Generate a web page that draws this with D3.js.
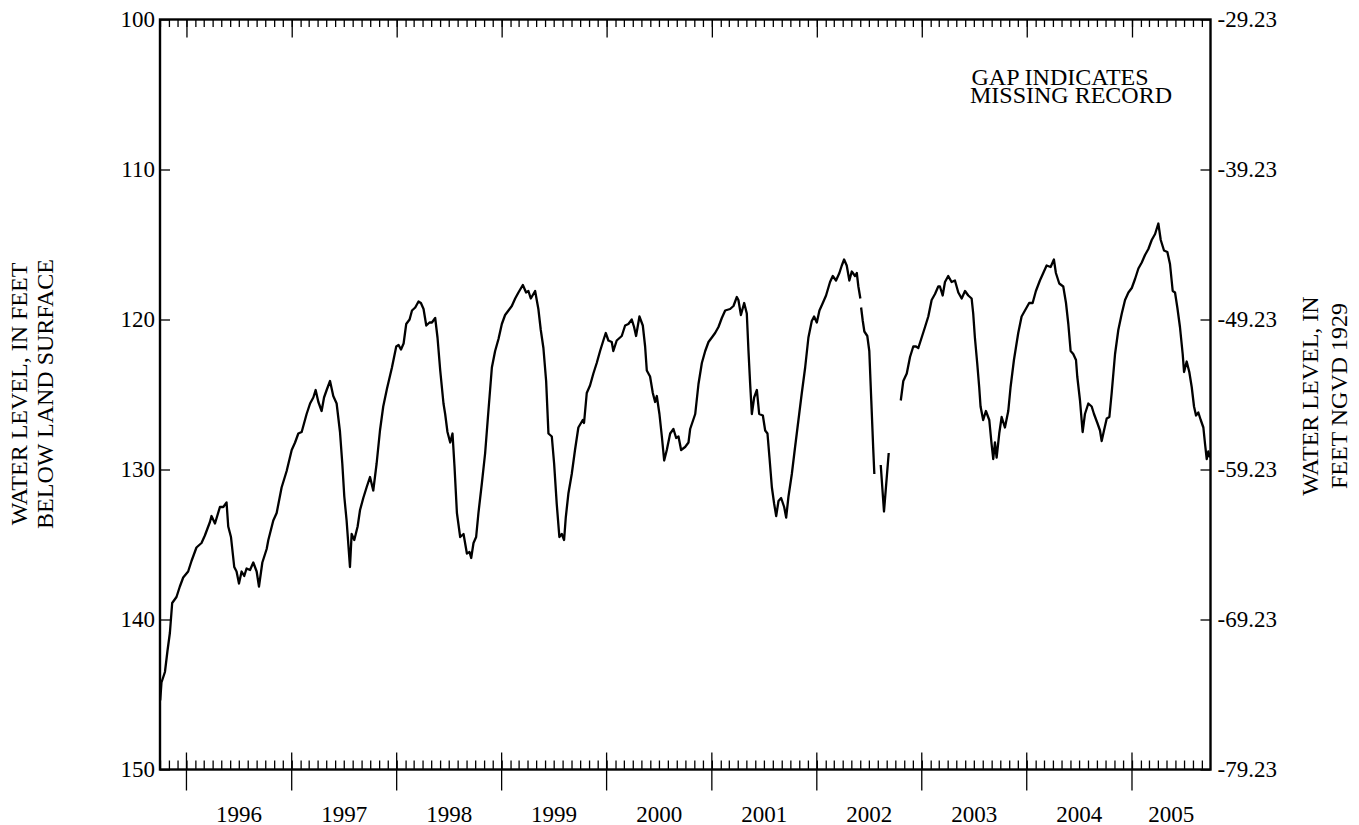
<!DOCTYPE html>
<html>
<head>
<meta charset="utf-8">
<script src="https://cdn.jsdelivr.net/npm/d3@7"></script>
<style>
  html, body { margin: 0; padding: 0; background: #fff; }
  svg { display: block; font-family: "Liberation Serif", "Times New Roman", serif; }
</style>
</head>
<body>
<svg id="chart" width="1359" height="825"></svg>
<script>
// Observation time, as decimal calendar years (water years 1996-2005).
const decimalYear = [
  1995.750, 1995.762, 1995.795, 1995.819, 1995.842, 1995.864, 1995.905, 1995.937, 1995.969,
  1996.016, 1996.048, 1996.095, 1996.143, 1996.175, 1996.223, 1996.238, 1996.271, 1996.318,
  1996.350, 1996.381, 1996.397, 1996.423, 1996.454, 1996.476, 1996.499, 1996.524, 1996.549,
  1996.571, 1996.604, 1996.635, 1996.667, 1996.689, 1996.721, 1996.762, 1996.778, 1996.825,
  1996.857, 1996.904, 1996.952,
  1997.000, 1997.032, 1997.063, 1997.095, 1997.142, 1997.175, 1997.206, 1997.228, 1997.254,
  1997.285, 1997.308, 1997.333, 1997.365, 1997.396, 1997.428, 1997.460, 1997.482, 1997.501,
  1997.523, 1997.555, 1997.571, 1997.596, 1997.628, 1997.651, 1997.682, 1997.713, 1997.746,
  1997.777, 1997.809, 1997.841, 1997.872, 1997.908, 1997.955, 1997.996,
  1998.018, 1998.041, 1998.066, 1998.091, 1998.123, 1998.146, 1998.177, 1998.208, 1998.231,
  1998.256, 1998.282, 1998.313, 1998.336, 1998.367, 1998.389, 1998.415, 1998.446, 1998.462,
  1998.484, 1998.510, 1998.532, 1998.551, 1998.574, 1998.605, 1998.637, 1998.669, 1998.694,
  1998.710, 1998.732, 1998.757, 1998.779, 1998.812, 1998.843, 1998.874, 1998.907, 1998.938,
  1998.970,
  1999.002, 1999.033, 1999.065, 1999.097, 1999.129, 1999.160, 1999.202, 1999.233, 1999.255,
  1999.278, 1999.319, 1999.350, 1999.373, 1999.398, 1999.424, 1999.446, 1999.478, 1999.500,
  1999.525, 1999.550, 1999.573, 1999.595, 1999.611, 1999.636, 1999.668, 1999.699, 1999.731,
  1999.773, 1999.785, 1999.811, 1999.842, 1999.874, 1999.906, 1999.938, 1999.969, 1999.992,
  2000.017, 2000.049, 2000.064, 2000.096, 2000.144, 2000.176, 2000.207, 2000.239, 2000.261,
  2000.280, 2000.312, 2000.344, 2000.366, 2000.382, 2000.413, 2000.439, 2000.461, 2000.477,
  2000.502, 2000.525, 2000.547, 2000.572, 2000.604, 2000.635, 2000.661, 2000.683, 2000.708,
  2000.746, 2000.778, 2000.794, 2000.842, 2000.873, 2000.905, 2000.937, 2000.968,
  2001.000, 2001.031, 2001.063, 2001.095, 2001.127, 2001.174, 2001.206, 2001.238, 2001.253,
  2001.277, 2001.308, 2001.333, 2001.349, 2001.365, 2001.381, 2001.403, 2001.429, 2001.451,
  2001.486, 2001.508, 2001.530, 2001.549, 2001.572, 2001.594, 2001.613, 2001.635, 2001.660,
  2001.689, 2001.708, 2001.730, 2001.762, 2001.793, 2001.825, 2001.857, 2001.889, 2001.920,
  2001.952, 2001.974,
  2002.000, 2002.025, 2002.057, 2002.088, 2002.126, 2002.152, 2002.183, 2002.215, 2002.238,
  2002.260, 2002.285, 2002.310, 2002.333, 2002.364, 2002.381, 2002.396, 2002.415,
  2002.418,
  2002.422, 2002.438, 2002.453, 2002.481, 2002.500, 2002.519, 2002.538, 2002.548,
  2002.580,
  2002.609, 2002.640, 2002.685,
  2002.740,
  2002.800, 2002.824, 2002.857, 2002.888, 2002.919, 2002.945, 2002.967, 2002.999,
  2003.031, 2003.062, 2003.094, 2003.126, 2003.157, 2003.173, 2003.199, 2003.221, 2003.252,
  2003.284, 2003.316, 2003.348, 2003.380, 2003.412, 2003.443, 2003.475, 2003.490, 2003.506,
  2003.528, 2003.547, 2003.560, 2003.585, 2003.611, 2003.643, 2003.665, 2003.681, 2003.697,
  2003.713, 2003.738, 2003.761, 2003.792, 2003.824, 2003.846, 2003.878, 2003.919, 2003.951,
  2003.983,
  2004.023, 2004.056, 2004.087, 2004.125, 2004.157, 2004.189, 2004.227, 2004.258, 2004.277,
  2004.309, 2004.347, 2004.373, 2004.395, 2004.417, 2004.442, 2004.468, 2004.480, 2004.506,
  2004.531, 2004.553, 2004.585, 2004.617, 2004.639, 2004.671, 2004.696, 2004.712, 2004.734,
  2004.760, 2004.785, 2004.807, 2004.839, 2004.870, 2004.903, 2004.934, 2004.966, 2004.998,
  2005.029, 2005.061, 2005.093, 2005.124, 2005.156, 2005.188, 2005.220, 2005.251, 2005.274,
  2005.305, 2005.337, 2005.362, 2005.388, 2005.410, 2005.432, 2005.457, 2005.483, 2005.496,
  2005.521, 2005.546, 2005.569, 2005.591, 2005.610, 2005.632, 2005.655, 2005.680, 2005.696,
  2005.712, 2005.727, 2005.743
];

// Water level, feet below land surface (null = missing record).
const depthBelowLand = [
  145.4, 144.2, 143.5, 142.1, 140.9, 138.9, 138.5, 137.8, 137.2,
  136.8, 136.1, 135.2, 134.9, 134.4, 133.5, 133.1, 133.6, 132.5,
  132.5, 132.2, 133.8, 134.5, 136.5, 136.8, 137.6, 136.8, 137.1,
  136.6, 136.7, 136.2, 136.8, 137.8, 136.2, 135.3, 134.7, 133.4,
  132.9, 131.2, 130.1,
  128.7, 128.2, 127.6, 127.5, 126.3, 125.6, 125.2, 124.7, 125.5,
  126.1, 125.2, 124.7, 124.1, 125.1, 125.6, 127.5, 129.6, 131.8,
  133.4, 136.5, 134.3, 134.7, 133.8, 132.7, 131.9, 131.2, 130.5,
  131.4, 129.6, 127.4, 125.8, 124.6, 123.2, 121.8,
  121.7, 122.0, 121.6, 120.3, 120.0, 119.4, 119.2, 118.8, 118.9,
  119.3, 120.4, 120.2, 120.2, 119.9, 121.2, 123.4, 125.6, 126.3,
  127.5, 128.2, 127.6, 129.8, 132.9, 134.5, 134.3, 135.6, 135.5,
  135.9, 134.9, 134.5, 132.9, 130.9, 128.9, 126.1, 123.2, 122.1,
  121.3,
  120.3, 119.7, 119.4, 119.1, 118.6, 118.2, 117.7, 118.2, 118.1,
  118.6, 118.1, 119.3, 120.7, 121.9, 124.1, 127.6, 127.8, 129.6,
  132.3, 134.5, 134.3, 134.7, 133.2, 131.6, 130.3, 128.7, 127.2,
  126.7, 126.9, 124.9, 124.4, 123.6, 122.9, 122.1, 121.4, 120.9,
  121.4, 121.5, 122.1, 121.4, 121.1, 120.4, 120.3, 120.0, 120.5,
  121.1, 119.8, 120.4, 121.8, 123.4, 123.8, 124.9, 125.5, 125.1,
  126.3, 127.8, 129.4, 128.7, 127.6, 127.3, 127.9, 127.8, 128.7,
  128.5, 128.2, 127.3, 126.3, 124.3, 122.9, 122.1, 121.5,
  121.2, 120.9, 120.5, 119.9, 119.4, 119.3, 119.1, 118.5, 118.7,
  119.7, 118.9, 119.6, 122.1, 124.3, 126.3, 125.2, 124.7, 126.3,
  126.4, 127.4, 127.6, 129.2, 131.2, 132.3, 133.1, 132.1, 131.9,
  132.5, 133.2, 131.8, 130.3, 128.5, 126.7, 124.9, 123.2, 121.2,
  120.1, 119.8,
  120.2, 119.4, 118.9, 118.4, 117.5, 117.1, 117.4, 116.9, 116.4,
  116.0, 116.4, 117.4, 116.8, 117.1, 116.9, 117.8, 118.6,
  null,
  119.2, 120.1, 120.8, 121.1, 122.1, 125.4, 128.7, 130.3,
  null,
  129.7, 132.8, 128.9,
  null,
  125.4, 124.1, 123.6, 122.5, 121.8, 121.8, 121.9, 121.2,
  120.5, 119.8, 118.7, 118.3, 117.8, 117.8, 118.4, 117.5, 117.1,
  117.5, 117.4, 118.2, 118.6, 118.1, 118.4, 118.6, 119.6, 121.2,
  122.9, 124.5, 125.8, 126.7, 126.1, 126.7, 128.3, 129.3, 128.2,
  129.2, 127.6, 126.5, 127.2, 126.1, 124.5, 122.7, 120.9, 119.8,
  119.4,
  118.9, 118.9, 118.1, 117.4, 116.9, 116.4, 116.5, 116.0, 116.9,
  117.6, 117.8, 118.9, 120.3, 122.1, 122.3, 122.7, 123.8, 125.4,
  127.5, 126.3, 125.6, 125.8, 126.3, 126.9, 127.4, 128.1, 127.4,
  126.6, 126.5, 124.9, 122.3, 120.7, 119.6, 118.7, 118.2, 117.9,
  117.3, 116.6, 116.2, 115.7, 115.3, 114.7, 114.3, 113.6, 114.7,
  115.4, 115.5, 116.3, 118.1, 118.2, 119.2, 120.5, 122.3, 123.5,
  122.8, 123.5, 124.5, 125.8, 126.4, 126.2, 126.7, 127.2, 128.3,
  129.3, 128.8, 129.2
];

const yearLabels = ["1996", "1997", "1998", "1999", "2000", "2001", "2002", "2003", "2004", "2005"];
const depthTicks = [100, 110, 120, 130, 140, 150];
const landSurfaceDatum = 70.77;   // land-surface altitude, feet above NGVD 1929
const leftTitle = ["WATER LEVEL, IN FEET", "BELOW LAND SURFACE"];
const rightTitle = ["WATER LEVEL, IN", "FEET NGVD 1929"];
const noteLines = ["GAP INDICATES", "MISSING RECORD"];

const W = 1359, H = 825;
const margin = { left: 160, top: 19.5, right: 148.5, bottom: 55.5 };
const width = W - margin.left - margin.right;
const height = H - margin.top - margin.bottom;

const svg = d3.select("#chart");
const g = svg.append("g").attr("transform", `translate(${margin.left},${margin.top})`);

function toDate(dy) {
  const y = Math.floor(dy);
  const a = Date.UTC(y, 0, 1), b = Date.UTC(y + 1, 0, 1);
  return new Date(a + (dy - y) * (b - a));
}

const start = new Date(Date.UTC(1995, 9, 1));
const end = new Date(Date.UTC(2005, 9, 1));

const x = d3.scaleUtc().domain([start, end]).range([0, width]);
const y = d3.scaleLinear().domain([100, 150]).range([0, height]);
const yRight = d3.scaleLinear()
  .domain([landSurfaceDatum - 100, landSurfaceDatum - 150])
  .range([0, height]);

const series = decimalYear.map((t, i) => ({ date: toDate(t), value: depthBelowLand[i] }));

const tickFont = 23;

// Monthly minor ticks along bottom and top edges (pointing inward)
const months = d3.utcMonth.range(start, end);
const years = d3.utcYear.range(d3.utcYear.ceil(start), end);

const styleAxis = sel => {
  sel.select(".domain").remove();
  sel.selectAll("line").attr("stroke", "#000").attr("stroke-width", 1.3);
  sel.selectAll("text").attr("font-size", tickFont).attr("fill", "#000")
    .attr("font-family", '"Liberation Serif", "Times New Roman", serif');
};

g.append("g").attr("transform", `translate(0,${height})`)
  .call(d3.axisBottom(x).tickValues(months).tickSize(-9).tickFormat(""))
  .call(styleAxis);
g.append("g")
  .call(d3.axisTop(x).tickValues(months).tickSize(-7.5).tickFormat(""))
  .call(styleAxis);

// Year ticks: bottom ones cross the frame, top ones point inward
g.append("g").selectAll("line.yb").data(years).join("line")
  .attr("x1", d => x(d)).attr("x2", d => x(d))
  .attr("y1", height - 17).attr("y2", height + 21)
  .attr("stroke", "#000").attr("stroke-width", 1.3);
g.append("g")
  .call(d3.axisTop(x).tickValues(years).tickSize(-18).tickFormat(""))
  .call(styleAxis);

// Year labels centred on the part of each calendar year shown
g.append("g").selectAll("text").data(yearLabels).join("text")
  .attr("x", d => {
    const yr = +d;
    const a = d3.max([start, new Date(Date.UTC(yr, 0, 1))]);
    const b = d3.min([end, new Date(Date.UTC(yr + 1, 0, 1))]);
    return (x(a) + x(b)) / 2;
  })
  .attr("y", height + 52)
  .attr("text-anchor", "middle")
  .attr("font-size", tickFont)
  .text(d => d);

// Left axis: depth below land surface
g.append("g")
  .call(d3.axisLeft(y).tickValues(depthTicks).tickSize(-10).tickPadding(5).tickFormat(d => String(d)))
  .call(styleAxis);

// Right axis: altitude relative to NGVD 1929
g.append("g").attr("transform", `translate(${width},0)`)
  .call(d3.axisRight(yRight)
    .tickValues(depthTicks.map(d => landSurfaceDatum - d))
    .tickSize(-10).tickPadding(7)
    .tickFormat(d => d.toFixed(2)))
  .call(styleAxis);

// Hydrograph
const line = d3.line()
  .defined(d => d.value !== null)
  .x(d => x(d.date))
  .y(d => y(d.value));

g.append("path")
  .datum(series)
  .attr("fill", "none")
  .attr("stroke", "#000")
  .attr("stroke-width", 2.3)
  .attr("stroke-linejoin", "round")
  .attr("d", line);

// Frame
g.append("rect")
  .attr("x", 0).attr("y", 0).attr("width", width).attr("height", height)
  .attr("fill", "none").attr("stroke", "#000").attr("stroke-width", 2.4);

// Axis titles
const titleFont = 24;
const leftT = svg.append("g").attr("transform", "translate(0,394) rotate(-90)");
leftT.selectAll("text").data(leftTitle).join("text")
  .attr("x", 0).attr("y", (d, i) => 26.7 + i * 26.6)
  .attr("text-anchor", "middle").attr("font-size", titleFont).text(d => d);

const rightT = svg.append("g").attr("transform", "translate(0,396) rotate(-90)");
rightT.selectAll("text").data(rightTitle).join("text")
  .attr("x", 0).attr("y", (d, i) => 1318.3 + i * 28.4)
  .attr("text-anchor", "middle").attr("font-size", titleFont).text(d => d);

// Note about gaps (two tightly set lines)
svg.append("g").selectAll("text").data(noteLines).join("text")
  .attr("x", (d, i) => 971.5 - i * 1.5)
  .attr("y", (d, i) => 85 + i * 17.5)
  .attr("font-size", titleFont)
  .text(d => d);
</script>
</body>
</html>
